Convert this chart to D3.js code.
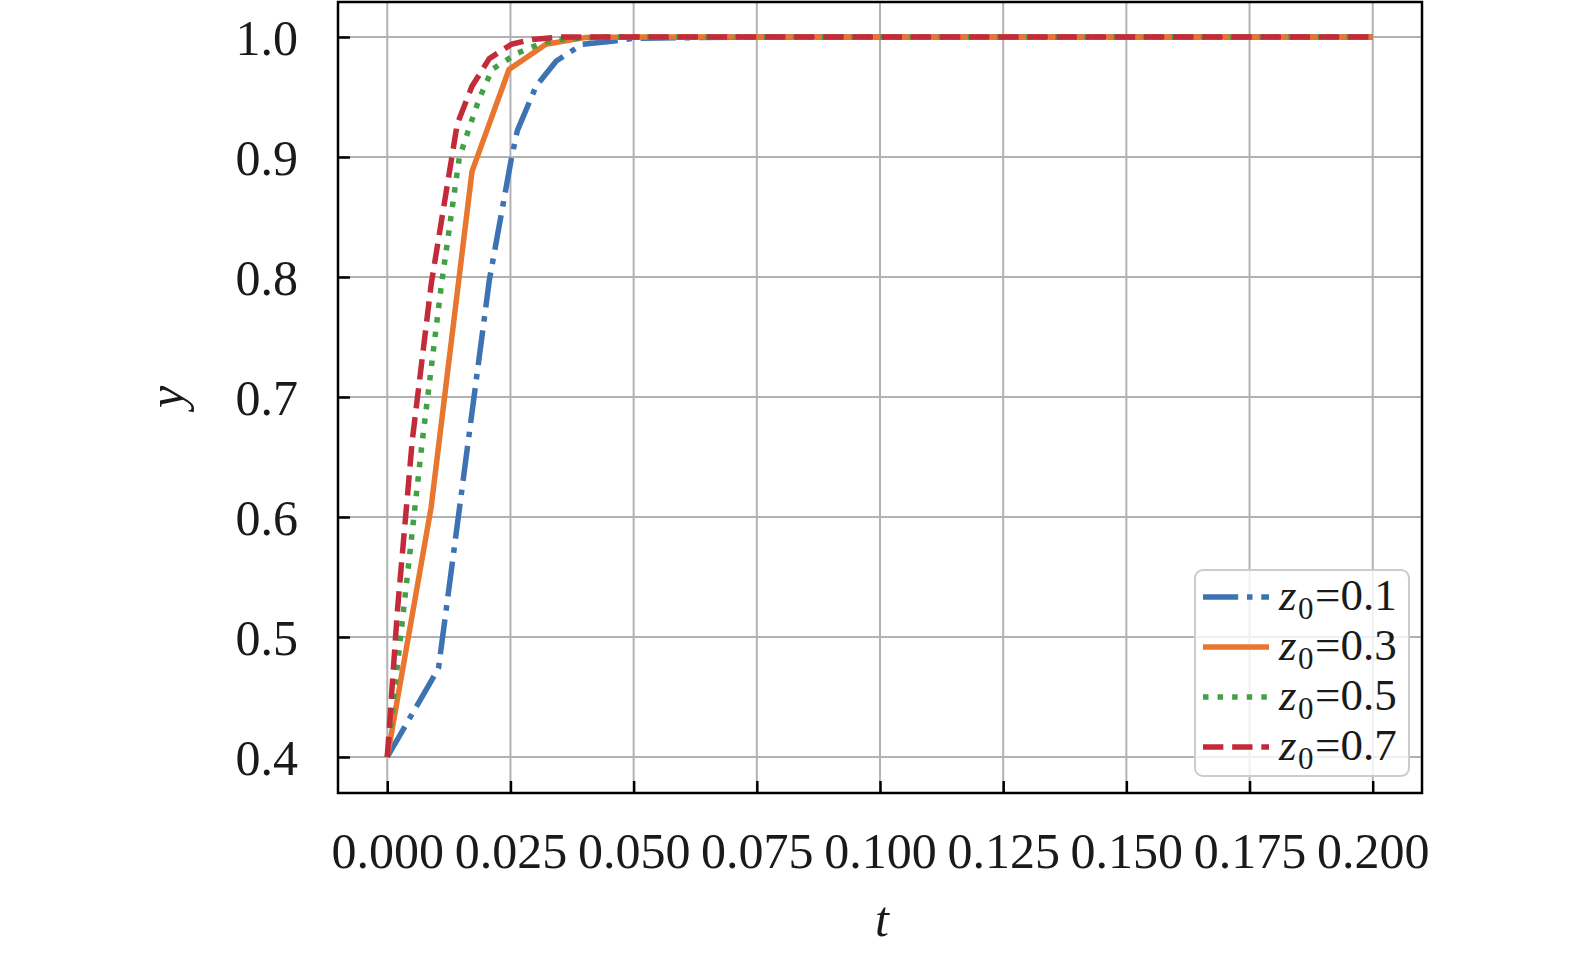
<!DOCTYPE html>
<html>
<head>
<meta charset="utf-8">
<script src="https://cdn.jsdelivr.net/npm/d3@7"></script>
<style>
  html, body { margin: 0; padding: 0; background: #fff; }
  svg { display: block; }
  text { font-family: "Liberation Serif", "Times New Roman", serif; fill: #1a1a1a; }
</style>
</head>
<body>
<svg id="chart" width="1575" height="959"></svg>
<script>
// values
const tZ01 = [0, 0.0104, 0.0207, 0.0252, 0.0264, 0.0302, 0.0343, 0.0396, 0.0456, 0.050, 0.075, 0.1, 0.15, 0.2];
const yZ01 = [0.4, 0.474, 0.797, 0.899, 0.922, 0.959, 0.980, 0.994, 0.9965, 0.999, 1.0, 1.0, 1.0, 1.0];

const tZ03 = [0, 0.0089, 0.0172, 0.0247, 0.0322, 0.040, 0.05, 0.1, 0.15, 0.2];
const yZ03 = [0.4, 0.608, 0.888, 0.973, 0.994, 0.9995, 1.0, 1.0, 1.0, 1.0];

const tZ05 = [0, 0.00345, 0.0071, 0.011, 0.0146, 0.0166, 0.0187, 0.0213, 0.0264, 0.0314, 0.0353, 0.043, 0.1, 0.15, 0.2];
const yZ05 = [0.4, 0.528, 0.663, 0.794, 0.899, 0.924, 0.949, 0.973, 0.9865, 0.995, 0.998, 1.0, 1.0, 1.0, 1.0];

const tZ07 = [0, 0.00203, 0.00507, 0.00892, 0.0142, 0.0172, 0.0207, 0.0252, 0.0294, 0.035, 0.1, 0.15, 0.2];
const yZ07 = [0.4, 0.5206, 0.6637, 0.7943, 0.9275, 0.959, 0.982, 0.994, 0.998, 1.0, 1.0, 1.0, 1.0];

const seriesLabels = ['0.1', '0.3', '0.5', '0.7'];
const xTicks = [0, 0.025, 0.05, 0.075, 0.1, 0.125, 0.15, 0.175, 0.2];
const yTicks = [0.4, 0.5, 0.6, 0.7, 0.8, 0.9, 1.0];

const LW = 5.5;
const series = [
  { label: seriesLabels[0], t: tZ01, y: yZ01, color: '#3d72b3', dash: [6.4 * LW, 1.6 * LW, 1 * LW, 1.6 * LW] },
  { label: seriesLabels[1], t: tZ03, y: yZ03, color: '#e9762e', dash: null },
  { label: seriesLabels[2], t: tZ05, y: yZ05, color: '#42a047', dash: [1 * LW, 1.65 * LW] },
  { label: seriesLabels[3], t: tZ07, y: yZ07, color: '#c32b3b', dash: [3.7 * LW, 1.6 * LW] },
];

const svg = d3.select('#chart');
const pLeft = 338, pRight = 1422, pTop = 1, pBottom = 793;

const x = d3.scaleLinear().domain([-0.01, 0.21]).range([pLeft, pRight]);
const y = d3.scaleLinear().domain([0.37, 1.03]).range([pBottom, pTop]);

svg.append('rect').attr('width', 1575).attr('height', 959).attr('fill', '#fff');

svg.append('defs').append('clipPath').attr('id', 'plot-clip')
  .append('rect')
  .attr('x', pLeft).attr('y', pTop)
  .attr('width', pRight - pLeft).attr('height', pBottom - pTop);

// grid
const grid = svg.append('g').attr('stroke', '#b2b2b2').attr('stroke-width', 2);
xTicks.forEach(v => {
  grid.append('line').attr('x1', x(v)).attr('x2', x(v)).attr('y1', pTop).attr('y2', pBottom);
});
yTicks.forEach(v => {
  grid.append('line').attr('x1', pLeft).attr('x2', pRight).attr('y1', y(v)).attr('y2', y(v));
});

// curves
const line = d3.line().x(d => x(d[0])).y(d => y(d[1]));
const plot = svg.append('g').attr('clip-path', 'url(#plot-clip)');
series.forEach(s => {
  const pts = s.t.map((t, i) => [t, s.y[i]]);
  plot.append('path')
    .datum(pts)
    .attr('d', line)
    .attr('fill', 'none')
    .attr('stroke', s.color)
    .attr('stroke-width', LW)
    .attr('stroke-linejoin', 'round')
    .attr('stroke-dasharray', s.dash ? s.dash.join(' ') : null);
});

// axes (ticks inward, labels outside)
const xAxis = d3.axisBottom(x).tickValues(xTicks).tickFormat(d3.format('.3f'))
  .tickSizeInner(-12).tickSizeOuter(0).tickPadding(0);
const gx = svg.append('g').attr('transform', `translate(0,${pBottom})`).call(xAxis);
gx.select('.domain').remove();
gx.selectAll('line').attr('stroke', '#000').attr('stroke-width', 2.5);
gx.selectAll('text')
  .attr('y', 75).attr('dy', 0)
  .style('font-size', '50px')
  .style('font-family', '"Liberation Serif", serif')
  .attr('fill', '#1a1a1a');

const yAxis = d3.axisLeft(y).tickValues(yTicks).tickFormat(d3.format('.1f'))
  .tickSizeInner(-12).tickSizeOuter(0).tickPadding(0);
const gy = svg.append('g').attr('transform', `translate(${pLeft},0)`).call(yAxis);
gy.select('.domain').remove();
gy.selectAll('line').attr('stroke', '#000').attr('stroke-width', 2.5);
gy.selectAll('text')
  .attr('x', -40).attr('dy', '0.34em')
  .style('font-size', '50px')
  .style('font-family', '"Liberation Serif", serif')
  .attr('fill', '#1a1a1a');

// frame
svg.append('rect')
  .attr('x', pLeft).attr('y', pTop + 1)
  .attr('width', pRight - pLeft).attr('height', pBottom - pTop - 1)
  .attr('fill', 'none').attr('stroke', '#000').attr('stroke-width', 2.5);

// axis titles
svg.append('text')
  .attr('x', (pLeft + pRight) / 2 + 2).attr('y', 936)
  .attr('text-anchor', 'middle')
  .style('font-size', '50px').style('font-style', 'italic')
  .text('t');

svg.append('text')
  .attr('transform', `translate(183,${(pTop + pBottom) / 2}) rotate(-90)`)
  .attr('text-anchor', 'middle')
  .style('font-size', '50px').style('font-style', 'italic')
  .text('y');

// legend
const lg = svg.append('g').attr('transform', 'translate(1195,570)');
lg.append('rect')
  .attr('width', 214).attr('height', 206).attr('rx', 8)
  .attr('fill', 'rgba(255,255,255,0.8)')
  .attr('stroke', '#cccccc').attr('stroke-width', 2);

series.forEach((s, i) => {
  const cy = 27 + i * 50;
  lg.append('line')
    .attr('x1', 8).attr('x2', 74).attr('y1', cy).attr('y2', cy)
    .attr('stroke', s.color).attr('stroke-width', LW)
    .attr('stroke-dasharray', s.dash ? s.dash.join(' ') : null);
  // z with subscript 0, then "=value"
  lg.append('text')
    .attr('x', 84).attr('y', cy + 13)
    .style('font-size', '45px').style('font-style', 'italic')
    .text('z');
  lg.append('text')
    .attr('x', 103).attr('y', cy + 22)
    .style('font-size', '31px')
    .text('0');
  lg.append('text')
    .attr('x', 120).attr('y', cy + 13)
    .style('font-size', '45px')
    .text('=' + s.label);
});
</script>
</body>
</html>
